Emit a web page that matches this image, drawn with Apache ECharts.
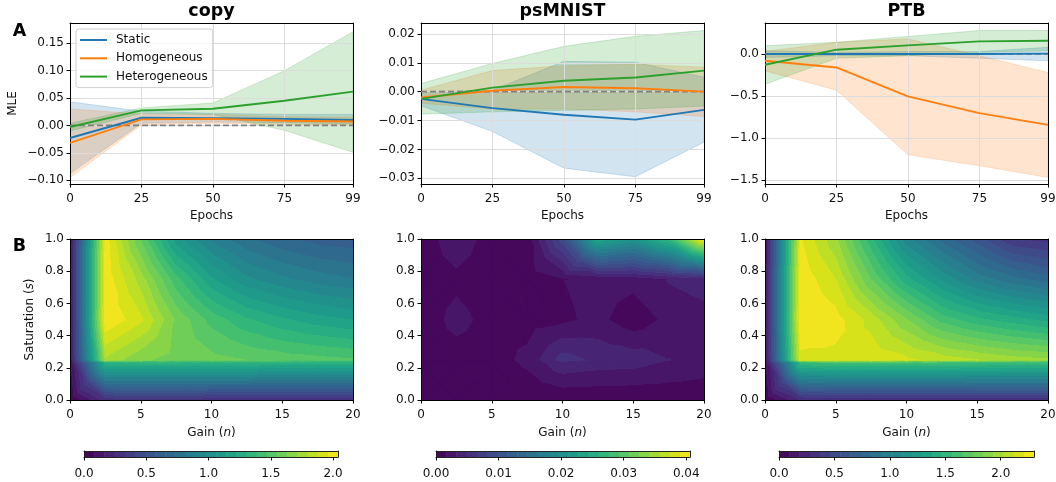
<!DOCTYPE html>
<html><head><meta charset="utf-8">
<script src="https://cdn.jsdelivr.net/npm/echarts@6/dist/echarts.min.js"></script>
<style>html,body{margin:0;padding:0;background:#fff}#c{width:1056px;height:482px}</style>
</head><body><div id="c"></div>
<script>
// ---------- DATA ----------
const panelTitles = ['copy', 'psMNIST', 'PTB'];
const seriesNames = ['Static', 'Homogeneous', 'Heterogeneous'];
const epochs = [0, 25, 50, 75, 99];
const epochTicks = [0, 25, 50, 75, 99];

// copy
const copyStatic   = [-0.023, 0.014, 0.013, 0.012, 0.010];
const copyStaticLo = [-0.088, 0.004, 0.006, 0.005, 0.003];
const copyStaticHi = [0.043, 0.026, 0.022, 0.020, 0.020];
const copyHomog    = [-0.032, 0.011, 0.012, 0.0085, 0.007];
const copyHomogLo  = [-0.095, 0.001, 0.004, 0.002, 0.000];
const copyHomogHi  = [0.030, 0.021, 0.020, 0.016, 0.015];
const copyHetero   = [-0.003, 0.0275, 0.0305, 0.045, 0.0617];
const copyHeteroLo = [-0.010, 0.022, 0.020, -0.009, -0.049];
const copyHeteroHi = [0.004, 0.032, 0.041, 0.100, 0.171];
// psMNIST
const psStatic   = [-0.0025, -0.0057, -0.0080, -0.0097, -0.0063];
const psStaticLo = [-0.0049, -0.0138, -0.0265, -0.0295, -0.0175];
const psStaticHi = [0.0000, 0.0005, 0.0105, 0.0102, 0.0050];
const psHomog    = [-0.0020, 0.0003, 0.0016, 0.0012, 0.0000];
const psHomogLo  = [-0.0040, -0.0060, -0.0060, -0.0070, -0.0086];
const psHomogHi  = [0.0005, 0.0073, 0.0090, 0.0095, 0.0085];
const psHetero   = [-0.0025, 0.0014, 0.0038, 0.0049, 0.0073];
const psHeteroLo = [-0.0078, -0.0070, -0.0065, -0.0060, -0.0050];
const psHeteroHi = [0.0028, 0.0098, 0.0157, 0.0192, 0.0212];
// PTB
const ptbStatic   = [0.000, 0.000, 0.000, 0.000, 0.005];
const ptbStaticLo = [-0.04, -0.02, -0.02, -0.05, -0.08];
const ptbStaticHi = [0.04, 0.02, 0.03, 0.03, 0.08];
const ptbHomog    = [-0.080, -0.160, -0.505, -0.704, -0.843];
const ptbHomogLo  = [-0.20, -0.43, -1.20, -1.33, -1.47];
const ptbHomogHi  = [0.03, 0.14, 0.18, -0.02, -0.22];
const ptbHetero   = [-0.127, 0.052, 0.103, 0.151, 0.159];
const ptbHeteroLo = [-0.36, -0.05, -0.02, 0.02, 0.04];
const ptbHeteroHi = [0.10, 0.14, 0.21, 0.28, 0.28];

// MLE axis ranges & tick labels
const copyRange = [-0.107, 0.187];
const psRange   = [-0.032, 0.0238];
const ptbRange  = [-1.548, 0.37];
const copyTicks = [-0.10, -0.05, 0.00, 0.05, 0.10, 0.15];
const psTicks   = [-0.03, -0.02, -0.01, 0.00, 0.01, 0.02];
const ptbTicks  = [-1.5, -1.0, -0.5, 0.0];

// Contour grids: gain (n) columns, saturation (s) rows
const gainVals = [0, 2.5, 5, 7.5, 10, 12.5, 15, 17.5, 20];
const satVals  = [0, 0.23, 0.25, 0.5, 0.75, 1.0];
const copyGrid = [
  [0.00, 0.28, 0.30, 0.30, 0.28, 0.28, 0.28, 0.28, 0.28],
  [0.08, 1.30, 1.32, 1.32, 1.30, 1.30, 1.28, 1.28, 1.28],
  [0.10, 1.78, 1.65, 1.60, 1.58, 1.55, 1.52, 1.50, 1.48],
  [0.10, 2.04, 1.90, 1.62, 1.44, 1.32, 1.24, 1.18, 1.14],
  [0.10, 2.02, 1.76, 1.42, 1.16, 1.00, 0.92, 0.86, 0.82],
  [0.08, 2.00, 1.55, 1.10, 0.88, 0.75, 0.67, 0.62, 0.60]
];
const psGrid = [
  [0.0000, 0.0004, 0.0004, 0.0004, 0.0002, 0.0002, 0.0002, 0.0004, 0.0008],
  [0.0006, 0.0007, 0.0008, 0.0019, 0.0045, 0.0040, 0.0038, 0.0030, 0.0022],
  [0.0006, 0.0008, 0.0008, 0.0021, 0.0056, 0.0045, 0.0042, 0.0033, 0.0025],
  [0.0006, 0.0022, 0.0010, 0.0009, 0.0013, 0.0021, 0.0006, 0.0021, 0.0026],
  [0.0006, 0.0012, 0.0006, 0.0006, 0.0016, 0.0022, 0.0022, 0.0034, 0.0040],
  [0.0006, 0.0028, 0.0008, 0.0008, 0.0090, 0.0240, 0.0210, 0.0270, 0.0406]
];
const ptbGrid = [
  [0.00, 0.28, 0.30, 0.30, 0.30, 0.30, 0.30, 0.30, 0.30],
  [0.08, 1.55, 1.58, 1.58, 1.58, 1.58, 1.56, 1.55, 1.55],
  [0.10, 2.18, 2.18, 2.18, 2.14, 2.08, 2.03, 1.98, 1.95],
  [0.10, 2.30, 2.25, 2.08, 1.85, 1.62, 1.50, 1.42, 1.35],
  [0.10, 2.28, 2.12, 1.75, 1.42, 1.18, 0.98, 0.86, 0.78],
  [0.08, 2.22, 1.95, 1.50, 1.05, 0.80, 0.60, 0.38, 0.33]
];
const copyCbTicks = [0, 0.5, 1.0, 1.5, 2.0];
const psCbTicks   = [0, 0.01, 0.02, 0.03, 0.04];
const ptbCbTicks  = [0, 0.5, 1.0, 1.5, 2.0];

// ---------- STYLE / LAYOUT ----------
const FONT = 'DejaVu Sans';
const colors = ['#1f77b4', '#ff7f0e', '#2ca02c'];
const bandFill = ['rgba(31,119,180,0.2)', 'rgba(255,127,14,0.2)', 'rgba(44,160,44,0.2)'];
const NLEV = 25;
const lefts = [70, 421, 765];
const W = 283;
const cbLefts = [84, 436, 779];
const cbW = [254, 254, 255];

const vir = ['#440154','#471365','#482475','#463480','#414487','#3b528b','#355f8d','#2f6c8e','#2a788e','#25848e','#21918c','#1e9c89','#22a884','#2fb47c','#44bf70','#5ec962','#7ad151','#9bd93c','#bddf26','#dfe318','#fde725'];
function hx(h){return [parseInt(h.slice(1,3),16),parseInt(h.slice(3,5),16),parseInt(h.slice(5,7),16)];}
function viridis(t){
  t = Math.max(0, Math.min(1, t));
  const f = t * 20, i = Math.min(19, Math.floor(f)), u = f - i;
  const a = hx(vir[i]), b = hx(vir[i+1]);
  return 'rgb(' + a.map((v,k)=>Math.round(v + (b[k]-v)*u)).join(',') + ')';
}
const fmt = (v, d) => (v < -1e-12 ? '\u2212' : '') + Math.abs(v).toFixed(d);

const grids = [], xAxes = [], yAxes = [], series = [];
function addGrid(left, top, width, height){
  grids.push({left, top, width, height, show:false, containLabel:false, outerBoundsMode:'none'});
  return grids.length - 1;
}
const tickStyle = {show:true, length:3.5, lineStyle:{color:'#000', width:1}};
const labStyle = (extra) => Object.assign({color:'#111', fontFamily:FONT, fontSize:12, margin:6}, extra||{});
function frameAxes(gi, col){
  col = col || '#000';
  xAxes.push({gridIndex:gi, type:'value', position:'top', min:0, max:1, z:2,
    axisLine:{show:true, onZero:false, lineStyle:{color:col, width:1}},
    axisTick:{show:false}, axisLabel:{show:false}, splitLine:{show:false}});
  yAxes.push({gridIndex:gi, type:'value', position:'right', min:0, max:1, z:2,
    axisLine:{show:true, onZero:false, lineStyle:{color:col, width:1}},
    axisTick:{show:false}, axisLabel:{show:false}, splitLine:{show:false}});
}

// ---------- TOP ROW: MLE vs epochs ----------
const topData = [
  {means:[copyStatic, copyHomog, copyHetero], lo:[copyStaticLo, copyHomogLo, copyHeteroLo], hi:[copyStaticHi, copyHomogHi, copyHeteroHi], range:copyRange, ticks:copyTicks, dec:2},
  {means:[psStatic, psHomog, psHetero], lo:[psStaticLo, psHomogLo, psHeteroLo], hi:[psStaticHi, psHomogHi, psHeteroHi], range:psRange, ticks:psTicks, dec:2},
  {means:[ptbStatic, ptbHomog, ptbHetero], lo:[ptbStaticLo, ptbHomogLo, ptbHeteroLo], hi:[ptbStaticHi, ptbHomogHi, ptbHeteroHi], range:ptbRange, ticks:ptbTicks, dec:1}
];
const gridLineStyle = {show:true, lineStyle:{color:'#dcdcdc', width:1}};
topData.forEach((d, p) => {
  const gi = addGrid(lefts[p], 23, W, 161);
  const xi = xAxes.length;
  xAxes.push({gridIndex:gi, type:'value', min:0, max:99, z:2,
    name:'Epochs', nameLocation:'middle', nameGap:26,
    nameTextStyle:{fontFamily:FONT, fontSize:12, color:'#111'},
    axisLine:{show:true, onZero:false, lineStyle:{color:'#000', width:1}},
    axisTick:Object.assign({customValues:epochTicks}, tickStyle),
    axisLabel:labStyle({customValues:epochTicks, margin:9, formatter:v=>String(v)}),
    splitLine:gridLineStyle});
  const yi = yAxes.length;
  yAxes.push({gridIndex:gi, type:'value', min:d.range[0], max:d.range[1], z:2,
    name: p === 0 ? 'MLE' : '', nameLocation:'middle', nameGap:51, nameRotate:90,
    nameTextStyle:{fontFamily:FONT, fontSize:12, color:'#111'},
    axisLine:{show:true, onZero:false, lineStyle:{color:'#000', width:1}},
    axisTick:Object.assign({customValues:d.ticks}, tickStyle),
    axisLabel:labStyle({customValues:d.ticks, formatter:v=>fmt(v, d.dec)}),
    splitLine:gridLineStyle});
  frameAxes(gi);
  // confidence bands
  for (let s = 0; s < 3; s++) {
    const lo = d.lo[s], hi = d.hi[s];
    series.push({type:'custom', xAxisIndex:xi, yAxisIndex:yi, z:1, silent:true, clip:true,
      data:[[epochs[0], lo[0]]],
      renderItem:(params, api) => {
        const pts = [];
        for (let i = 0; i < epochs.length; i++) pts.push(api.coord([epochs[i], hi[i]]));
        for (let i = epochs.length - 1; i >= 0; i--) pts.push(api.coord([epochs[i], lo[i]]));
        return {type:'polygon', shape:{points:pts}, style:{fill:bandFill[s], stroke:bandFill[s], lineWidth:1}};
      }});
  }
  // zero reference
  series.push({type:'line', xAxisIndex:xi, yAxisIndex:yi, z:3, silent:true, symbol:'none',
    data:[[0,0],[99,0]], lineStyle:{color:'#808080', width:1.6, type:[6,3]}, animation:false});
  // means
  for (let s = 0; s < 3; s++) {
    series.push({type:'line', name:seriesNames[s], xAxisIndex:xi, yAxisIndex:yi, z:4,
      symbol:'none', showSymbol:false, data:epochs.map((e,i)=>[e, d.means[s][i]]),
      lineStyle:{color:colors[s], width:1.9}, itemStyle:{color:colors[s]}, animation:false});
  }
});

// ---------- BOTTOM ROW: contour maps ----------
const maps = [
  {grid:copyGrid, cbTicks:copyCbTicks, dec:1},
  {grid:psGrid, cbTicks:psCbTicks, dec:2},
  {grid:ptbGrid, cbTicks:ptbCbTicks, dec:1}
];
const italicRich = {i:{fontStyle:'italic', fontFamily:FONT, fontSize:12, color:'#111'}};
maps.forEach((m, p) => {
  let vmin = Infinity, vmax = -Infinity;
  m.grid.forEach(r => r.forEach(v => { vmin = Math.min(vmin, v); vmax = Math.max(vmax, v); }));
  const levels = [];
  for (let k = 0; k <= NLEV; k++) levels.push(vmin + (vmax - vmin) * k / NLEV);
  const bandCol = [];
  for (let k = 0; k < NLEV; k++) bandCol.push(viridis((k + 0.5) / NLEV));
  const band = v => Math.max(0, Math.min(NLEV - 1, Math.floor((v - vmin) / (vmax - vmin) * NLEV)));

  const gi = addGrid(lefts[p], 239, W, 161);
  const xi = xAxes.length;
  xAxes.push({gridIndex:gi, type:'value', min:0, max:20, interval:5, z:2,
    name:'Gain ({i|n})', nameLocation:'middle', nameGap:27,
    nameTextStyle:{fontFamily:FONT, fontSize:12, color:'#111', rich:italicRich},
    axisLine:{show:true, onZero:false, lineStyle:{color:'#000', width:1}},
    axisTick:tickStyle, axisLabel:labStyle({margin:9}), splitLine:{show:false}});
  const yi = yAxes.length;
  yAxes.push({gridIndex:gi, type:'value', min:0, max:1, interval:0.2, z:2,
    name: p === 0 ? 'Saturation ({i|s})' : '', nameLocation:'middle', nameGap:34, nameRotate:90,
    nameTextStyle:{fontFamily:FONT, fontSize:12, color:'#111', rich:italicRich},
    axisLine:{show:true, onZero:false, lineStyle:{color:'#000', width:1}},
    axisTick:tickStyle, axisLabel:labStyle({formatter:v=>v.toFixed(1)}), splitLine:{show:false}});
  frameAxes(gi);

  const tris = [];
  for (let j = 0; j < satVals.length - 1; j++)
    for (let i = 0; i < gainVals.length - 1; i++)
      for (let t = 0; t < 4; t++) tris.push([i, j, t]);
  series.push({type:'custom', xAxisIndex:xi, yAxisIndex:yi, z:1, silent:true, animation:false, clip:true,
    data: tris.map(q => [gainVals[q[0]], satVals[q[1]]]),
    renderItem:(params, api) => {
      const [i, j, t] = tris[params.dataIndex];
      const G = m.grid;
      const A = [gainVals[i], satVals[j], G[j][i]];
      const B = [gainVals[i+1], satVals[j], G[j][i+1]];
      const C = [gainVals[i+1], satVals[j+1], G[j+1][i+1]];
      const D = [gainVals[i], satVals[j+1], G[j+1][i]];
      const E = [(A[0]+B[0])/2, (A[1]+D[1])/2, (A[2]+B[2]+C[2]+D[2])/4];
      const tri = [[A,B,E],[B,C,E],[C,D,E],[D,A,E]][t];
      const P = tri.map(q => api.coord([q[0], q[1]]));
      const V = tri.map(q => q[2]);
      let imin = 0, imax = 0;
      for (let k = 1; k < 3; k++) { if (V[k] < V[imin]) imin = k; if (V[k] > V[imax]) imax = k; }
      const a = V[imin], b = V[imax];
      let fill;
      const e1 = [P[1][0]-P[0][0], P[1][1]-P[0][1]], e2 = [P[2][0]-P[0][0], P[2][1]-P[0][1]];
      const det = e1[0]*e2[1] - e1[1]*e2[0];
      if (b - a < 1e-12 || Math.abs(det) < 1e-9 || band(a) === band(b)) {
        fill = bandCol[band((a+b)/2)];
      } else {
        const d1 = V[1]-V[0], d2 = V[2]-V[0];
        const gx = (d1*e2[1] - d2*e1[1]) / det, gy = (d2*e1[0] - d1*e2[0]) / det;
        const s = (b - a) / (gx*gx + gy*gy);
        const x0 = P[imin][0], y0 = P[imin][1];
        const stops = [];
        for (let k = band(a); k <= band(b); k++) {
          const t0 = Math.max(0, (levels[k] - a) / (b - a));
          const t1 = Math.min(1, (levels[k+1] - a) / (b - a));
          stops.push({offset:t0, color:bandCol[k]}, {offset:t1, color:bandCol[k]});
        }
        fill = new echarts.graphic.LinearGradient(x0, y0, x0 + gx*s, y0 + gy*s, stops, true);
      }
      return {type:'polygon', shape:{points:P}, style:{fill:fill, stroke:fill, lineWidth:1.6}};
    }});

  // colorbar
  const cg = addGrid(cbLefts[p], 451, cbW[p], 6);
  const cxi = xAxes.length;
  xAxes.push({gridIndex:cg, type:'value', min:vmin, max:vmax, z:2,
    axisLine:{show:true, onZero:false, lineStyle:{color:'#222', width:1}},
    axisTick:Object.assign({customValues:m.cbTicks}, tickStyle),
    axisLabel:labStyle({customValues:m.cbTicks, margin:11, formatter:v=>v.toFixed(m.dec)}),
    splitLine:{show:false}});
  const cyi = yAxes.length;
  yAxes.push({gridIndex:cg, type:'value', min:0, max:1, z:2,
    axisLine:{show:true, onZero:false, lineStyle:{color:'#222', width:1}},
    axisTick:{show:false}, axisLabel:{show:false}, splitLine:{show:false}});
  frameAxes(cg, '#222');
  series.push({type:'custom', xAxisIndex:cxi, yAxisIndex:cyi, z:1, silent:true, animation:false,
    data: bandCol.map((c, k) => [levels[k], 0]),
    renderItem:(params, api) => {
      const k = params.dataIndex;
      const p0 = api.coord([levels[k], 0]), p1 = api.coord([levels[k+1], 1]);
      return {type:'rect', shape:{x:p0[0], y:p1[1], width:p1[0]-p0[0] + 0.5, height:p0[1]-p1[1]},
        style:{fill:bandCol[k]}};
    }});
});

const centers = lefts.map(l => l + W / 2);
const titleFont = {fontFamily:FONT, fontSize:17.5, fontWeight:'bold', color:'#000'};
const titles = panelTitles.map((t, p) => ({text:t, left:centers[p], top:2, textAlign:'center', padding:0, textStyle:titleFont}));
titles.push({text:'A', left:19.5, top:22, textAlign:'center', padding:0, textStyle:titleFont});
titles.push({text:'B', left:19.5, top:237, textAlign:'center', padding:0, textStyle:titleFont});

const chart = echarts.init(document.getElementById('c'), null, {renderer:'canvas'});
chart.setOption({
  animation:false,
  backgroundColor:'#fff',
  title:titles,
  legend:{data:seriesNames, orient:'vertical', left:76, top:29, icon:'rect', itemWidth:27, itemHeight:2, itemGap:4.3,
    padding:[4,5,4,4], backgroundColor:'rgba(255,255,255,0.8)', borderColor:'#d0d0d0', borderWidth:1, borderRadius:3,
    textStyle:{fontFamily:FONT, fontSize:12, color:'#111', padding:[0,0,0,4], lineHeight:14}, selectedMode:false},
  grid:grids, xAxis:xAxes, yAxis:yAxes, series:series
});
</script></body></html>
